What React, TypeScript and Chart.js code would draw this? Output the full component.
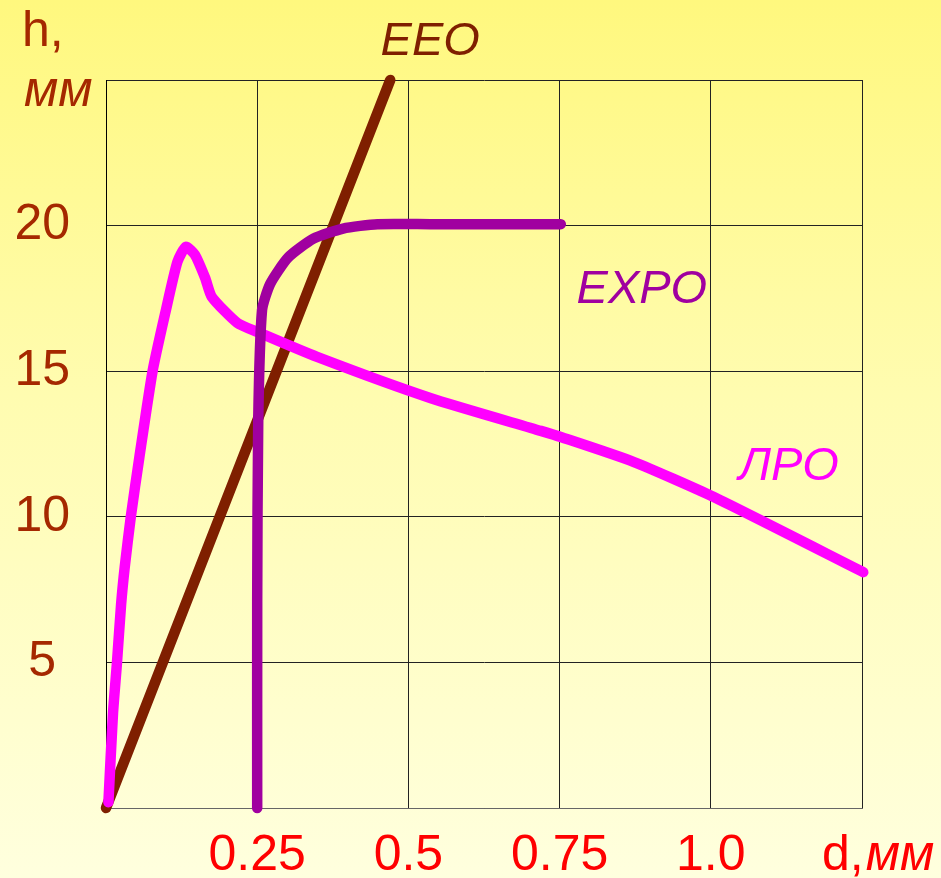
import React, { useEffect, useRef } from "react";
import { Chart, registerables } from "chart.js";
Chart.register(...registerables);

// Axis ticks
const xTickLabels = ["0.25", "0.5", "0.75", "1.0"];
const yTickLabels = ["5", "10", "15", "20"];

// ЕЕО (straight line)
const eeoD = [0, 0.47];
const eeoH = [0, 25];

// ЕХРО
const expoD = [0.25, 0.25, 0.2517, 0.258, 0.2715, 0.301, 0.343, 0.392, 0.449, 0.536, 0.752];
const expoH = [0, 7.1, 13.3, 17.1, 18.0, 18.9, 19.55, 19.9, 20.05, 20.05, 20.05];

// ЛРО
const lpoD = [0.004, 0.0116, 0.018, 0.025, 0.031, 0.041, 0.055, 0.077, 0.098, 0.118, 0.132, 0.147, 0.164, 0.175, 0.217, 0.25, 0.349, 0.536, 0.719, 0.752, 0.873, 1.005, 1.252];
const lpoH = [0.2, 3.26, 4.95, 7.0, 8.28, 10.0, 12.02, 15.0, 17.0, 18.75, 19.27, 19.0, 18.2, 17.55, 16.66, 16.35, 15.49, 14.08, 12.95, 12.74, 11.88, 10.68, 8.1];

const seriesNames = ["ЕХРО", "ЛРО", "ЕЕО"];
const seriesColors = ["#A000A0", "#FF00FF", "#7F1F00"];
const seriesTension = [0.2, 0.2, 0];
// label anchor positions in data units (d, h)
const labelD = [0.886, 1.129, 0.536];
const labelH = [17.8, 11.7, 26.3];

const FONT = "'Liberation Sans', Arial, sans-serif";

const textPlugin = {
  id: "texts",
  afterDatasetsDraw(chart: any) {
    const ctx = chart.ctx;
    const xs = chart.scales.x;
    const ys = chart.scales.y;
    const area = chart.chartArea;
    ctx.save();
    ctx.textBaseline = "middle";
    ctx.textAlign = "center";
    ctx.font = `italic 47px ${FONT}`;
    seriesNames.forEach((n, i) => {
      ctx.fillStyle = seriesColors[i];
      ctx.fillText(n, xs.getPixelForValue(labelD[i]), ys.getPixelForValue(labelH[i]));
    });
    // y axis title
    ctx.textAlign = "left";
    ctx.fillStyle = "#A52800";
    ctx.font = `50px ${FONT}`;
    ctx.fillText("h,", area.left - 84, area.top - 48);
    ctx.font = `italic 50px ${FONT}`;
    ctx.fillText("мм", area.left - 82, area.top + 12);
    // x axis title
    ctx.fillStyle = "#FF0000";
    ctx.font = `50px ${FONT}`;
    const bx = area.right - 40;
    const by = area.bottom + 48;
    ctx.fillText("d,", bx, by);
    const w = ctx.measureText("d,").width;
    ctx.font = `italic 50px ${FONT}`;
    ctx.fillText("мм", bx + w + 2, by);
    ctx.restore();
  },
};

export default function App() {
  const ref = useRef<HTMLCanvasElement>(null);
  useEffect(() => {
    const mk = (d: number[], h: number[]) => d.map((v, i) => ({ x: v, y: h[i] }));
    const datas = [mk(expoD, expoH), mk(lpoD, lpoH), mk(eeoD, eeoH)];
    const chart = new Chart(ref.current!, {
      type: "line",
      data: {
        datasets: datas.map((data, i) => ({
          label: seriesNames[i],
          data,
          borderColor: seriesColors[i],
          backgroundColor: seriesColors[i],
          borderWidth: 10.5,
          borderCapStyle: "round",
          borderJoinStyle: "round",
          pointRadius: 0,
          tension: seriesTension[i],
          fill: false,
          clip: false,
        })),
      },
      options: {
        responsive: false,
        animation: false,
        layout: { padding: { top: 80, right: 79, left: 0, bottom: 0 } },
        plugins: { legend: { display: false }, tooltip: { enabled: false } },
        scales: {
          x: {
            type: "linear",
            min: 0,
            max: 1.25,
            afterFit: (s: any) => { s.height = 70; },
            border: { color: "#666", width: 1 },
            grid: { color: "#222", lineWidth: 1, drawTicks: false },
            ticks: {
              stepSize: 0.25,
              padding: 18,
              color: "#FF0000",
              font: { family: FONT, size: 50 },
              maxRotation: 0,
              autoSkip: false,
              callback: (_v: any, i: number) => (i >= 1 && i <= 4 ? xTickLabels[i - 1] : ""),
            },
          },
          y: {
            type: "linear",
            min: 0,
            max: 25,
            afterFit: (s: any) => { s.width = 106; },
            border: { color: "#000", width: 1 },
            grid: { color: "#222", lineWidth: 1, drawTicks: false },
            ticks: {
              stepSize: 5,
              padding: 36,
              crossAlign: "center",
              color: "#A52800",
              font: { family: FONT, size: 50 },
              callback: (_v: any, i: number) => (i >= 1 && i <= 4 ? yTickLabels[i - 1] : ""),
            },
          },
        },
      },
      plugins: [textPlugin],
    } as any);
    return () => chart.destroy();
  }, []);
  return (
    <div
      style={{
        position: "fixed",
        left: 0,
        top: 0,
        width: 941,
        height: 878,
        background: "linear-gradient(180deg, #FFF87E 0%, #FFFCB0 45%, #FFFFDE 100%)",
      }}
    >
      <canvas ref={ref} width={941} height={878} style={{ display: "block" }} />
    </div>
  );
}
